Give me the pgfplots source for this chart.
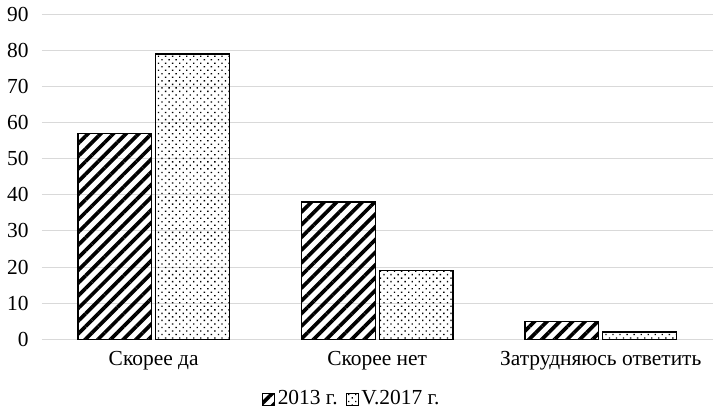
\documentclass[border=0pt]{standalone}
\usepackage{fontspec}
\setmainfont{Liberation Serif}
\usepackage{pgfplots}
\pgfplotsset{compat=1.18}
\usetikzlibrary{patterns.meta}

\begin{document}
\fontsize{21.5bp}{25bp}\selectfont
\begin{tikzpicture}
    \begin{axis}[
        scale only axis,
        width=673bp,
        height=326bp,
        ybar,
        bar width=74bp,
        ymin=0, ymax=90,
        ytick={0,10,...,90},
        xmin=-0.5, xmax=2.5,
        xtick={0,1,2},
        xticklabels={Скорее да, Скорее нет, Затрудняюсь ответить},
        axis line style={draw=none},
        major tick length=0pt,
        ymajorgrids,
        grid style={draw=black!15, line width=1bp},
        yticklabel style={xshift=-6bp},
        xticklabel style={yshift=-5bp},
        /pgf/number format/assume math mode=true,
        legend style={
            at={(0.462,-0.185)}, anchor=center,
            draw=none, legend columns=2,
            /tikz/every odd column/.append style={column sep=1bp},
            /tikz/every even column/.append style={column sep=6bp},
        },
        legend image code/.code={
            \draw[#1, line width=0.8bp] (0bp,-6bp) rectangle (12bp,6bp);
        },
        clip=false,
        ]
        \addplot[draw=black, line width=1.2bp, bar shift=-39bp,
            pattern={Lines[angle=45,distance=9bp,line width=3.7bp]}]
            coordinates {(0,57) (1,38) (2,5)};
        \addplot[draw=black, line width=1.2bp, bar shift=39bp,
            pattern={Dots[angle=45,distance=5bp,radius=0.95bp]}]
            coordinates {(0,79) (1,19) (2,2)};
        \legend{2013 г., V.2017 г.}
    \end{axis}
\end{tikzpicture}
\end{document}
